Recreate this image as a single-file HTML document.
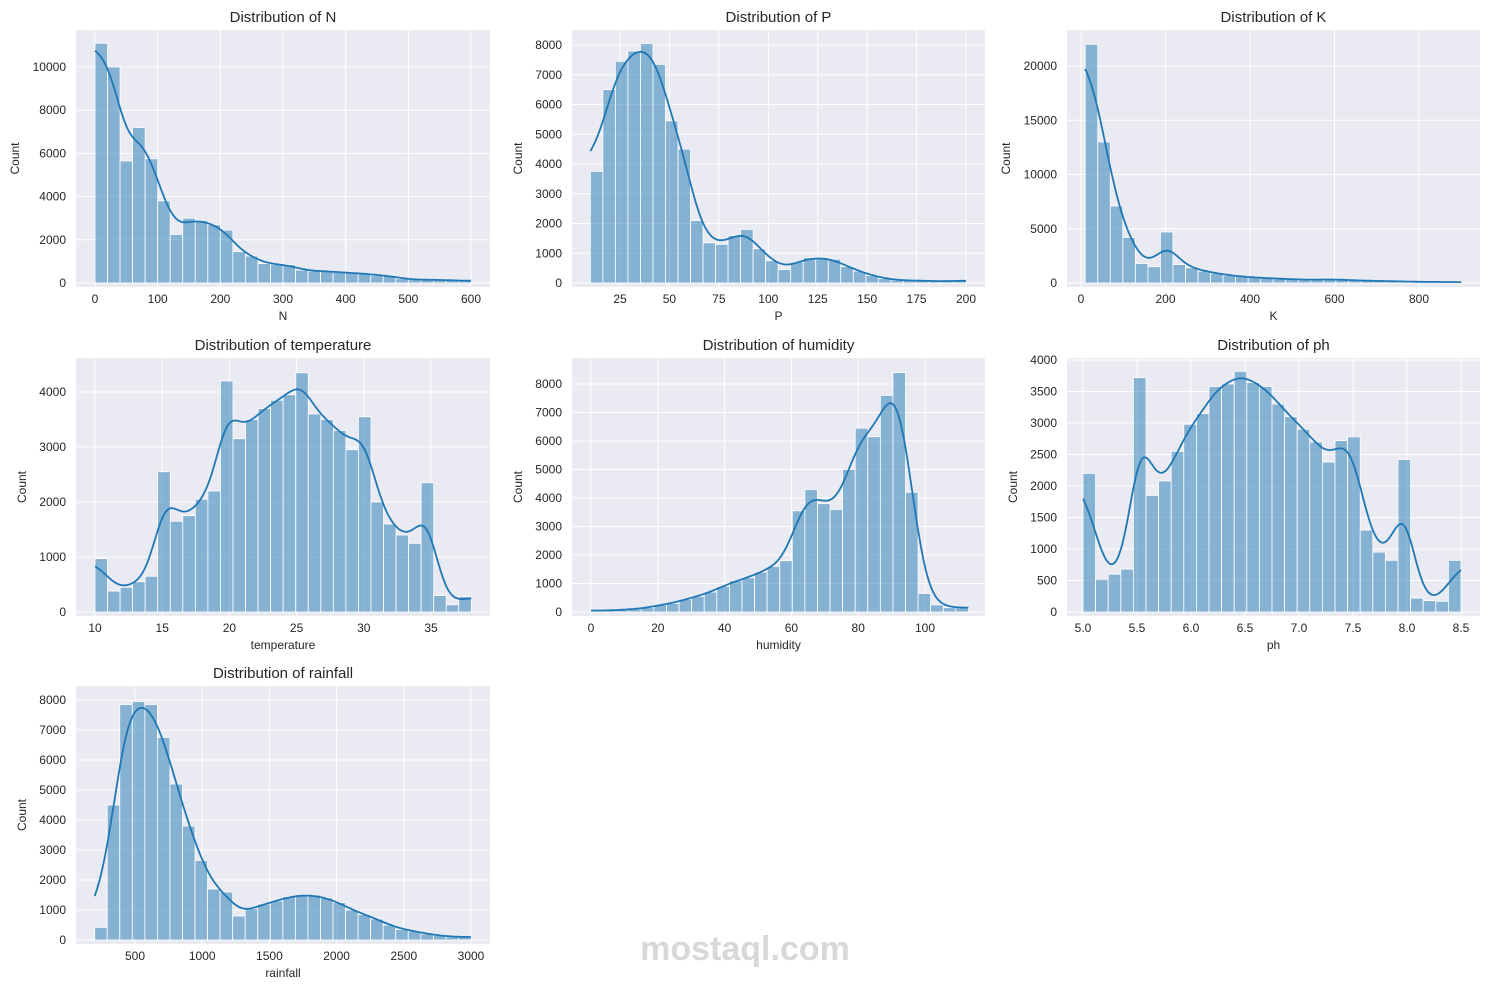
<!DOCTYPE html>
<html><head><meta charset="utf-8">
<style>
body{margin:0;background:#fff;font-family:"Liberation Sans",Arial,sans-serif;}
svg text{font-family:"Liberation Sans",Arial,sans-serif;fill:#262626;}
</style></head>
<body>
<svg id="fig" width="1489" height="990" xmlns="http://www.w3.org/2000/svg">
<text x="745" y="960" text-anchor="middle" font-size="34" font-weight="bold" style="fill:#d8d8d8">mostaql.com</text>
</svg>
<script>
// ---- data (counts per bin, 30 bins each) ----
const nCounts = [11100,10000,5650,7200,5750,3800,2250,3000,2900,2700,2450,1450,1250,900,850,850,600,550,550,500,450,450,350,350,200,150,150,150,120,100];
const pCounts = [3750,6500,7450,7800,8050,7350,5450,4500,2100,1350,1300,1600,1800,1150,750,450,700,850,850,800,550,400,250,150,100,80,80,60,60,80];
const kCounts = [22000,13000,7100,4200,1800,1500,4700,1700,1400,1100,900,700,600,500,450,400,350,300,300,350,300,250,200,200,150,150,100,100,100,80];
const tempCounts = [970,380,450,550,650,2550,1650,1750,2050,2200,4200,3150,3500,3700,3850,3950,4350,3600,3500,3300,2950,3550,2000,1600,1400,1250,2350,300,130,280];
const humCounts = [50,50,80,100,150,250,300,450,550,700,900,1100,1200,1400,1600,1800,3550,4300,3800,3600,5000,6450,6150,7600,8400,4200,650,250,150,150];
const phCounts = [2200,520,600,680,3720,1850,2080,2550,2980,3150,3580,3620,3820,3640,3580,3300,3100,2900,2700,2380,2720,2780,1300,950,820,2420,220,180,170,820];
const rainCounts = [420,4500,7850,7950,7850,6750,5200,3800,2650,1700,1600,800,1050,1200,1300,1450,1500,1500,1400,1250,1000,850,700,500,350,300,200,150,100,100];
const nTicksX = [0,100,200,300,400,500,600];
const nTicksY = [0,2000,4000,6000,8000,10000];
const pTicksX = [25,50,75,100,125,150,175,200];
const pTicksY = [0,1000,2000,3000,4000,5000,6000,7000,8000];
const kTicksX = [0,200,400,600,800];
const kTicksY = [0,5000,10000,15000,20000];
const tempTicksX = [10,15,20,25,30,35];
const tempTicksY = [0,1000,2000,3000,4000];
const humTicksX = [0,20,40,60,80,100];
const humTicksY = [0,1000,2000,3000,4000,5000,6000,7000,8000];
const phTicksX = [5.0,5.5,6.0,6.5,7.0,7.5,8.0,8.5];
const phTicksY = [0,500,1000,1500,2000,2500,3000,3500,4000];
const rainTicksX = [500,1000,1500,2000,2500,3000];
const rainTicksY = [0,1000,2000,3000,4000,5000,6000,7000,8000];

const NS="http://www.w3.org/2000/svg";
const svg=document.getElementById('fig');
function mk(tag,attrs,parent){const e=document.createElementNS(NS,tag);for(const k in attrs)e.setAttribute(k,attrs[k]);(parent||svg).appendChild(e);return e;}

const panels=[
 {name:'n',title:'Distribution of N',xl:'N',box:[76,30,490,287],xa:[0,95,600,471],ya:[0,283,10000,67],bins:[0,600],counts:nCounts,tx:nTicksX,ty:nTicksY,fmt:v=>String(v)},
 {name:'p',title:'Distribution of P',xl:'P',box:[572,30,985,287],xa:[25,620,200,966],ya:[0,283,8000,45],bins:[10,200],counts:pCounts,tx:pTicksX,ty:pTicksY,fmt:v=>String(v)},
 {name:'k',title:'Distribution of K',xl:'K',box:[1067,30,1480,287],xa:[0,1081,800,1419],ya:[0,283,20000,66],bins:[10,900],counts:kCounts,tx:kTicksX,ty:kTicksY,fmt:v=>String(v)},
 {name:'temperature',title:'Distribution of temperature',xl:'temperature',box:[76,358,490,616],xa:[10,95,35,431],ya:[0,612,4000,392],bins:[10,38],counts:tempCounts,tx:tempTicksX,ty:tempTicksY,fmt:v=>String(v)},
 {name:'humidity',title:'Distribution of humidity',xl:'humidity',box:[572,358,985,616],xa:[0,591,100,925],ya:[0,612,8000,384],bins:[0,113],counts:humCounts,tx:humTicksX,ty:humTicksY,fmt:v=>String(v)},
 {name:'ph',title:'Distribution of ph',xl:'ph',box:[1067,358,1480,616],xa:[5,1083,8.5,1461],ya:[0,612,4000,360],bins:[5,8.5],counts:phCounts,tx:phTicksX,ty:phTicksY,fmt:v=>v.toFixed(1)},
 {name:'rainfall',title:'Distribution of rainfall',xl:'rainfall',box:[76,686,490,944],xa:[500,135,3000,471],ya:[0,940,8000,700],bins:[200,3000],counts:rainCounts,tx:rainTicksX,ty:rainTicksY,fmt:v=>String(v)}
];

panels.forEach(p=>{
 const [x0,y0,x1,y1]=p.box;
 const X=v=>p.xa[1]+(v-p.xa[0])*(p.xa[3]-p.xa[1])/(p.xa[2]-p.xa[0]);
 const Y=v=>p.ya[1]+(v-p.ya[0])*(p.ya[3]-p.ya[1])/(p.ya[2]-p.ya[0]);
 const g=mk('g',{});
 
 
 const bg=mk('rect',{x:x0,y:y0,width:x1-x0,height:y1-y0,fill:'#eaeaf2'},g);
 
 
 p.tx.forEach(t=>{
  const l=mk('line',{x1:X(t),x2:X(t),y1:y0,y2:y1,stroke:'#fff','stroke-width':1},g);
  
  
  const tt=mk('text',{x:X(t),y:y1+16,'text-anchor':'middle','font-size':12},g);
  tt.textContent=p.fmt(t);
  
  
 });
 p.ty.forEach(t=>{
  const l=mk('line',{x1:x0,x2:x1,y1:Y(t),y2:Y(t),stroke:'#fff','stroke-width':1},g);
  
  
  const tt=mk('text',{x:x0-10,y:Y(t)+4,'text-anchor':'end','font-size':12},g);
  tt.textContent=String(t);
  
  
 });
 const n=p.counts.length, bw=(p.bins[1]-p.bins[0])/n;
 p.counts.forEach((c,i)=>{
  const a=X(p.bins[0]+i*bw), b=X(p.bins[0]+(i+1)*bw);
  const r=mk('rect',{x:a,y:Y(c),width:b-a,height:Y(0)-Y(c),fill:'rgba(31,119,180,0.5)',stroke:'#fff','stroke-width':0.8},g);
  
  
 });
 let d='';
 const steps=300, sig=0.9;
 for(let s=0;s<=steps;s++){
  const u=s/steps*n;
  let num=0,den=0;
  for(let i=0;i<n;i++){const w=Math.exp(-0.5*Math.pow((u-(i+0.5))/sig,2));num+=w*p.counts[i];den+=w;}
  const v=num/den;
  d+=(s?'L':'M')+X(p.bins[0]+u*bw).toFixed(1)+','+Y(v).toFixed(1);
 }
 const path=mk('path',{d:d,fill:'none',stroke:'#1f77b4','stroke-width':1.8},g);
 
 
 const ti=mk('text',{x:(x0+x1)/2,y:y0-8,'text-anchor':'middle','font-size':15},g);
 ti.textContent=p.title;
 
 
 const xl=mk('text',{x:(x0+x1)/2,y:y1+33,'text-anchor':'middle','font-size':12},g);
 xl.textContent=p.xl;
 
 
 const maxLabel=Math.max(...p.ty.map(t=>String(t).length));
 const yx=x0-22-maxLabel*7;
 const yl=mk('text',{x:yx,y:(y0+y1)/2,'text-anchor':'middle','font-size':12,transform:`rotate(-90 ${yx} ${(y0+y1)/2})`},g);
 yl.textContent='Count';
 
 
});
</script>
</body></html>
